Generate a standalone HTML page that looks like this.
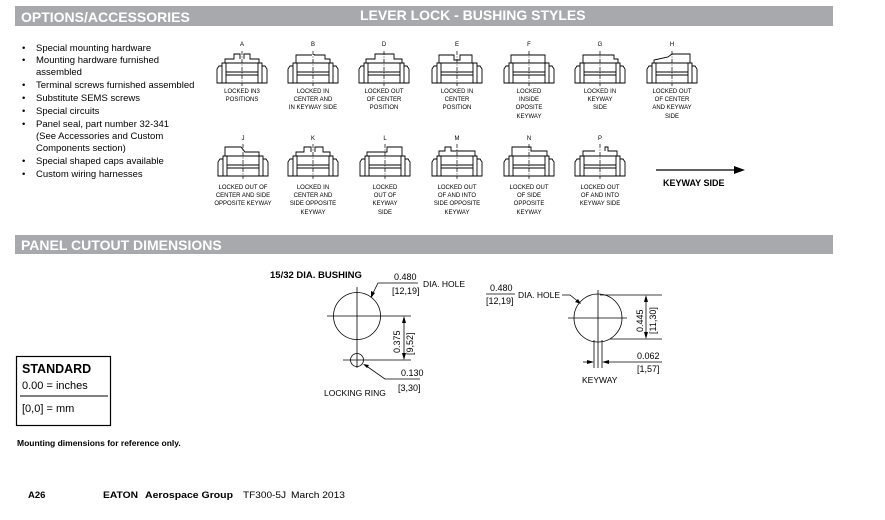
<!DOCTYPE html>
<html><head><meta charset="utf-8"><style>
html,body{margin:0;padding:0;background:#fff;}
svg{display:block;font-family:"Liberation Sans",sans-serif;}
</style></head><body>
<svg width="885" height="520" viewBox="0 0 885 520" xmlns="http://www.w3.org/2000/svg">
<defs>
<g id="base" fill="none" stroke="#000" stroke-width="0.9">
<path d="M-20,9 H20 V29 H-20 Z M-16,9 V29 M16,9 V29 M-16,18 H16 M-16,21 H16 M-20,12 H-23 L-25,15 V29 H25 V15 L23,12 H20"/>
<path d="M0,-3 V32" stroke-dasharray="4,1.5,1,1.5" stroke-width="0.7"/>
</g>
</defs>
<!-- headers -->
<rect x="15" y="6" width="818" height="20" fill="#a7a9ac"/>
<text x="21" y="22" font-size="14" font-weight="bold" fill="#fff">OPTIONS/ACCESSORIES</text>
<text x="360" y="20" font-size="14" font-weight="bold" fill="#fff">LEVER LOCK - BUSHING STYLES</text>
<rect x="15" y="235" width="818" height="19" fill="#a7a9ac"/>
<text x="21" y="250" font-size="14" font-weight="bold" fill="#fff">PANEL CUTOUT DIMENSIONS</text>
<!-- bullets -->
<g font-size="9.5" fill="#000">
<text x="22" y="51">•</text><text x="36" y="51">Special mounting hardware</text>
<text x="22" y="63">•</text><text x="36" y="63">Mounting hardware furnished</text>
<text x="36" y="75">assembled</text>
<text x="22" y="88">•</text><text x="36" y="88">Terminal screws furnished assembled</text>
<text x="22" y="101">•</text><text x="36" y="101">Substitute SEMS screws</text>
<text x="22" y="114">•</text><text x="36" y="114">Special circuits</text>
<text x="22" y="127">•</text><text x="36" y="127">Panel seal, part number 32-341</text>
<text x="36" y="139">(See Accessories and Custom</text>
<text x="36" y="151">Components section)</text>
<text x="22" y="164">•</text><text x="36" y="164">Special shaped caps available</text>
<text x="22" y="177">•</text><text x="36" y="177">Custom wiring harnesses</text>
</g>
<!-- icons row 1 -->
<g fill="none" stroke="#000" stroke-width="0.9">
<g transform="translate(242,54)"><use href="#base"/><path d="M-17,9 V5 H-8 V0 H-2 V5 M2,5 V0 H8 V5 H17 V9"/></g>
<g transform="translate(313,54)"><use href="#base"/><path d="M-17,9 V1 H-1 M1,1 V0 H1 M1,1 H12 V5 H17 V9"/></g>
<g transform="translate(384,54)"><use href="#base"/><path d="M-18,9 V5 H-9 V0 H10 V5 H18 V9"/></g>
<g transform="translate(457,54)"><use href="#base"/><path d="M-18,9 V1 H-3 V6 H3 V1 H15 V9"/></g>
<g transform="translate(529,54)"><use href="#base"/><path d="M-18,9 V1 H16 V9"/></g>
<g transform="translate(600,54)"><use href="#base"/><path d="M-17,9 V1 H14 V5 H18 V9"/></g>
<g transform="translate(672,54)"><use href="#base"/><path d="M-18,9 V6 L-4,3 L0,0 H18 V9"/></g>
</g>
<!-- icons row 2 -->
<g fill="none" stroke="#000" stroke-width="0.9">
<g transform="translate(243,147)"><use href="#base"/><path d="M-18,9 V0 H-2 L2,5 L8,5 H16 V9"/></g>
<g transform="translate(313,147)"><use href="#base"/><path d="M-17,9 V5 H-9 V0 H-2 V5 M2,5 V0 H10 V5 H17 V9"/></g>
<g transform="translate(385,147)"><use href="#base"/><path d="M-18,9 V5 H2 V0 H17 V9"/></g>
<g transform="translate(457,147)"><use href="#base"/><path d="M-18,9 V4 H-12 V0 H-6 V4 H18 V9"/></g>
<g transform="translate(529,147)"><use href="#base"/><path d="M-17,9 V0 H2 V4 H18 V9"/></g>
<g transform="translate(600,147)"><use href="#base"/><path d="M-17,9 V4 H-5 M5,4 V0 H8 V4 H17 V9"/></g>
</g>
<!-- letters and labels -->
<g font-size="6" fill="#000" text-anchor="middle">
<text x="242" y="46">A</text><text x="313" y="46">B</text><text x="384" y="46">D</text><text x="457" y="46">E</text><text x="529" y="46">F</text><text x="600" y="46">G</text><text x="672" y="46">H</text>
<text x="242" y="93">LOCKED IN3</text><text x="242" y="101">POSITIONS</text>
<text x="313" y="93">LOCKED IN</text><text x="313" y="101">CENTER AND</text><text x="313" y="109">IN KEYWAY SIDE</text>
<text x="384" y="93">LOCKED OUT</text><text x="384" y="101">OF CENTER</text><text x="384" y="109">POSITION</text>
<text x="457" y="93">LOCKED IN</text><text x="457" y="101">CENTER</text><text x="457" y="109">POSITION</text>
<text x="529" y="93">LOCKED</text><text x="529" y="101">INSIDE</text><text x="529" y="109">OPOSITE</text><text x="529" y="118">KEYWAY</text>
<text x="600" y="93">LOCKED IN</text><text x="600" y="101">KEYWAY</text><text x="600" y="109">SIDE</text>
<text x="672" y="93">LOCKED OUT</text><text x="672" y="101">OF CENTER</text><text x="672" y="109">AND KEYWAY</text><text x="672" y="118">SIDE</text>
<text x="243" y="140">J</text><text x="313" y="140">K</text><text x="385" y="140">L</text><text x="457" y="140">M</text><text x="529" y="140">N</text><text x="600" y="140">P</text>
<text x="243" y="189">LOCKED OUT OF</text><text x="243" y="197">CENTER AND SIDE</text><text x="243" y="205">OPPOSITE KEYWAY</text>
<text x="313" y="189">LOCKED IN</text><text x="313" y="197">CENTER AND</text><text x="313" y="205">SIDE OPPOSITE</text><text x="313" y="214">KEYWAY</text>
<text x="385" y="189">LOCKED</text><text x="385" y="197">OUT OF</text><text x="385" y="205">KEYWAY</text><text x="385" y="214">SIDE</text>
<text x="457" y="189">LOCKED OUT</text><text x="457" y="197">OF AND INTO</text><text x="457" y="205">SIDE OPPOSITE</text><text x="457" y="214">KEYWAY</text>
<text x="529" y="189">LOCKED OUT</text><text x="529" y="197">OF SIDE</text><text x="529" y="205">OPPOSITE</text><text x="529" y="214">KEYWAY</text>
<text x="600" y="189">LOCKED OUT</text><text x="600" y="197">OF AND INTO</text><text x="600" y="205">KEYWAY SIDE</text>
</g>
<!-- keyway arrow -->
<line x1="656" y1="170" x2="738" y2="170" stroke="#000" stroke-width="1.2"/>
<path d="M745,170 L734,166 L734,174 Z" fill="#000"/>
<text x="663" y="186" font-size="9" font-weight="bold">KEYWAY SIDE</text>
<!-- left cutout -->
<g fill="none" stroke="#000" stroke-width="0.8">
<circle cx="357" cy="316" r="23.5"/>
<line x1="357" y1="287" x2="357" y2="368"/>
<line x1="327" y1="316" x2="411" y2="316"/>
<line x1="343" y1="360" x2="411" y2="360"/>
<circle cx="357" cy="360" r="6.5"/>
<line x1="404" y1="318" x2="404" y2="358"/>
<polyline points="371,297 378,283 418,283"/>
<polyline points="365,365 385,379 420,379"/>
</g>
<path d="M404,316 L402,323 L406,323 Z M404,360 L402,353 L406,353 Z M371,298 L371,291 L375,293 Z M363,364 L369,365 L367,368 Z" fill="#000"/>
<text x="270" y="278" font-size="9.5" font-weight="bold">15/32 DIA. BUSHING</text>
<g font-size="9" fill="#000">
<text x="394" y="280">0.480</text>
<text x="392" y="294">[12,19]</text>
<text x="423" y="287" font-size="8.5">DIA. HOLE</text>
<text x="401" y="376">0.130</text>
<text x="398" y="391">[3,30]</text>
<text x="324" y="396" font-size="8.5">LOCKING RING</text>
<text transform="translate(400,353) rotate(-90)">0.375</text>
<text transform="translate(413,355) rotate(-90)">[9,52]</text>
</g>
<!-- right cutout -->
<g fill="none" stroke="#000" stroke-width="0.8">
<circle cx="598" cy="318" r="24"/>
<line x1="598" y1="290" x2="598" y2="368"/>
<line x1="568" y1="318" x2="627" y2="318"/>
<line x1="594" y1="340" x2="594" y2="368"/>
<line x1="602" y1="340" x2="602" y2="368"/>
<line x1="600" y1="295" x2="662" y2="295"/>
<line x1="610" y1="339" x2="662" y2="339"/>
<line x1="646" y1="297" x2="646" y2="337"/>
<line x1="583" y1="362" x2="592" y2="362"/>
<line x1="604" y1="362" x2="662" y2="362"/>
<polyline points="562,295 570,295 580,303"/>
</g>
<path d="M646,295 L644,302 L648,302 Z M646,339 L644,332 L648,332 Z M594,362 L587,360 L587,364 Z M602,362 L609,360 L609,364 Z M581,304 L575,302 L578,299 Z" fill="#000"/>
<g font-size="9" fill="#000">
<text x="490" y="291">0.480</text>
<text x="486" y="304">[12,19]</text>
<text x="518" y="298" font-size="8.5">DIA. HOLE</text>
<text x="637" y="359">0.062</text>
<text x="637" y="372">[1,57]</text>
<text x="582" y="383" font-size="8.5">KEYWAY</text>
<text transform="translate(643,332) rotate(-90)">0.445</text>
<text transform="translate(656,334) rotate(-90)">[11,30]</text>
</g>
<line x1="486" y1="294" x2="515" y2="294" stroke="#000" stroke-width="0.7"/>
<!-- standard box -->
<rect x="16.5" y="356.5" width="94" height="69" fill="none" stroke="#000" stroke-width="1.2"/>
<text x="22" y="373" font-size="12.5" font-weight="bold">STANDARD</text>
<text x="22" y="389" font-size="11">0.00 = inches</text>
<line x1="20" y1="396" x2="108" y2="396" stroke="#000" stroke-width="0.9"/>
<text x="22" y="412" font-size="11">[0,0] = mm</text>
<text x="17" y="446" font-size="8.5" font-weight="bold">Mounting dimensions for reference only.</text>
<text x="28" y="498" font-size="9.5" font-weight="bold">A26</text>
<text x="103" y="498" font-size="9.5" font-weight="bold" textLength="35" lengthAdjust="spacingAndGlyphs">EATON</text>
<text x="145" y="498" font-size="9.5" font-weight="bold" textLength="88" lengthAdjust="spacingAndGlyphs">Aerospace Group</text>
<text x="243" y="498" font-size="9.5" textLength="43" lengthAdjust="spacingAndGlyphs">TF300-5J</text>
<text x="291" y="498" font-size="9.5" textLength="54" lengthAdjust="spacingAndGlyphs">March 2013</text>
</svg>
</body></html>
